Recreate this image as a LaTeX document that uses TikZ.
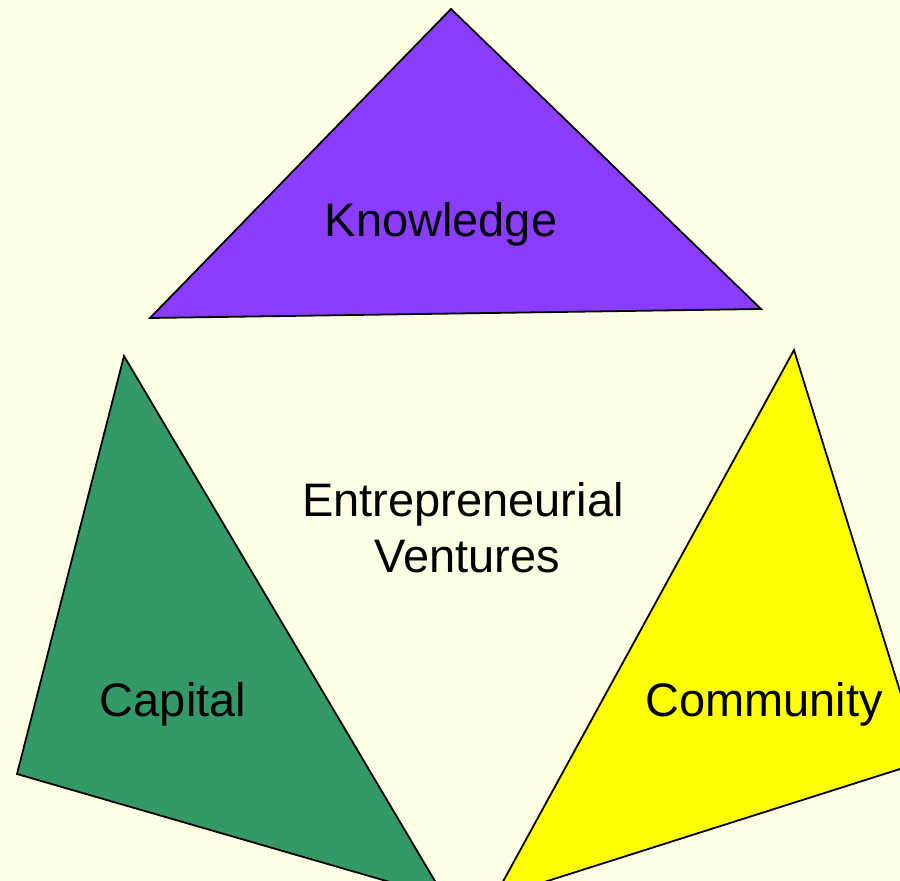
\documentclass[tikz,border=0pt]{standalone}
\usepackage{fontspec}
\setmainfont{Liberation Sans}
\definecolor{bg}{HTML}{FFFFE6}
\definecolor{kpurple}{HTML}{8B3DFF}
\definecolor{cgreen}{HTML}{339966}
\definecolor{cyellow}{HTML}{FFFF00}
\tikzset{
  tri/.style={draw=black, line width=1.8pt, line join=miter},
  lbl/.style={font=\fontsize{47}{56}\selectfont, anchor=base, inner sep=0pt, align=center}
}
\begin{document}
\begin{tikzpicture}[x=1pt,y=-1pt]
\fill[bg] (0,0) rectangle (900,881);
\useasboundingbox (0,0) rectangle (900,881);
\begin{scope}
\clip (0,0) rectangle (900,881);
\coordinate (kt) at (451,9);
\coordinate (kl) at (150,318);
\coordinate (kr) at (761,309);
\coordinate (ct) at (124,356);
\coordinate (cl) at (17,774);
\coordinate (cb) at (445,898);
\coordinate (yt) at (794,350);
\coordinate (yr) at (922,762);
\coordinate (yb) at (494,898);
\draw[tri, fill=kpurple] (kt) -- (kr) -- (kl) -- cycle;
\draw[tri, fill=cgreen] (ct) -- (cb) -- (cl) -- cycle;
\draw[tri, fill=cyellow] (yt) -- (yr) -- (yb) -- cycle;
\end{scope}
\node[lbl] (know) at (441,236) {Knowledge};
\node[lbl] (cap) at (173,716) {Capital};
\node[lbl] (comm) at (764,716) {Community};
\node[lbl] (ev) at (463,572) {Entrepreneurial\\\hspace*{8pt}Ventures};
\end{tikzpicture}
\end{document}
